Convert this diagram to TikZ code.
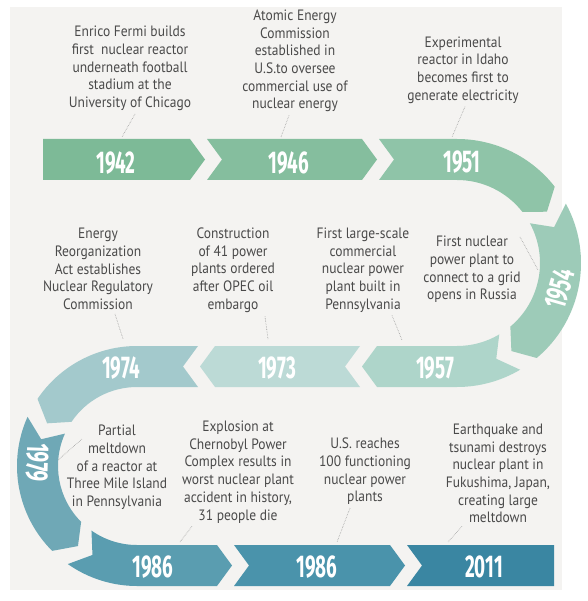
\documentclass[tikz,border=0pt]{standalone}
\usepackage{fontspec}
\setmainfont{PT Sans}
\newfontfamily\notefont[FakeStretch=0.9]{PT Sans}
\newfontfamily\yearfont[FakeStretch=0.6]{Fira Sans}
\usetikzlibrary{calc}
\definecolor{bggray}{HTML}{F4F3F1}
\definecolor{notegray}{HTML}{4A4A4A}
\definecolor{leadgray}{HTML}{9A9A9A}
\definecolor{cA}{HTML}{7DBA97}
\definecolor{cB}{HTML}{85BE9E}
\definecolor{cC}{HTML}{8FC4A8}
\definecolor{cD}{HTML}{9DCBB8}
\definecolor{cE}{HTML}{AED5CA}
\definecolor{cF}{HTML}{BCDAD6}
\definecolor{cG}{HTML}{A3C9CC}
\definecolor{cH}{HTML}{6FA8B6}
\definecolor{cI}{HTML}{5A9DB0}
\definecolor{cJ}{HTML}{4A93AB}
\definecolor{cK}{HTML}{3A86A2}
\tikzset{
  note/.style={font=\notefont\fontsize{15}{17.7}\selectfont, text=notegray, align=center, inner sep=0pt},
  year/.style={font=\yearfont\bfseries\fontsize{31.5}{32}\selectfont, text=white, inner sep=0pt},
  leader/.style={draw=leadgray, densely dotted, line width=0.6pt}
}

\begin{document}
\begin{tikzpicture}[x=1pt,y=-1pt]
 \useasboundingbox (0,0) rectangle (587,601);
 \fill[white] (0,0) rectangle (587,601);
 \fill[bggray] (10,7) rectangle (562,590);
 \coordinate (rc) at (457,263);
 \coordinate (lc) at (137,466);

 \fill[cA] (43,139) -- (190,139) -- (205,159.5) -- (190,180) -- (43,180) -- cycle;
 \fill[cB] (207,139) -- (362,139) -- (377,159.5) -- (362,180) -- (207,180) -- (222,159.5) -- cycle;
 \fill[cC] (379,139) -- (457,139) arc[start angle=-90, end angle=-38, radius=124]
   -- ($(rc)+(-29.7:103.5)$) -- ($(rc)+(-38:83)$) arc[start angle=-38, end angle=-90, radius=83]
   -- (379,180) -- (394,159.5) -- cycle;
 \fill[cD] ($(rc)+(-28.6:124)$) arc[start angle=-28.6, end angle=50, radius=124]
   -- ($(rc)+(58.3:103.5)$) -- ($(rc)+(50:83)$) arc[start angle=50, end angle=-28.6, radius=83]
   -- ($(rc)+(-20.3:103.5)$) -- cycle;
 \fill[cE] ($(rc)+(59.4:124)$) arc[start angle=59.4, end angle=90, radius=124]
   -- (377,387) -- (362,366.5) -- (377,346) -- (457,346) arc[start angle=90, end angle=59.4, radius=83]
   -- ($(rc)+(67.7:103.5)$) -- cycle;
 \fill[cF] (360,346) -- (215,346) -- (200,366.5) -- (215,387) -- (360,387) -- (345,366.5) -- cycle;
 \fill[cG] (198,346) -- (137,346) arc[start angle=-90, end angle=-146, radius=120]
   -- ($(lc)+(-154.6:99.5)$) -- ($(lc)+(-146:79)$) arc[start angle=-146, end angle=-90, radius=79]
   -- (198,387) -- (183,366.5) -- cycle;
 \fill[cH] ($(lc)+(-155.8:120)$) arc[start angle=-155.8, end angle=-225, radius=120]
   -- ($(lc)+(-233.6:99.5)$) -- ($(lc)+(-225:79)$) arc[start angle=-225, end angle=-155.8, radius=79]
   -- ($(lc)+(-164.4:99.5)$) -- cycle;
 \fill[cI] ($(lc)+(-234.8:120)$) arc[start angle=-234.8, end angle=-270, radius=120]
   -- (217,586) -- (232,565.5) -- (217,545) -- (137,545) arc[start angle=-270, end angle=-234.8, radius=79]
   -- ($(lc)+(-243.4:99.5)$) -- cycle;
 \fill[cJ] (234,545) -- (390,545) -- (405,565.5) -- (390,586) -- (234,586) -- (249,565.5) -- cycle;
 \fill[cK] (407,545) -- (554,545) -- (554,586) -- (407,586) -- (422,565.5) -- cycle;

 \node[year] (y1942) at (116,163) {1942};
 \node[year] (y1946) at (289,163) {1946};
 \node[year] (y1951) at (462,162) {1951};
 \node[year,rotate=74] (y1954) at ($(rc)+(14:106)$) {1954};
 \node[year] (y1957) at (435,368) {1957};
 \node[year] (y1973) at (277,368) {1973};
 \node[year] (y1974) at (121,368) {1974};
 \node[year,rotate=-92] (y1979) at ($(lc)+(182:100)$) {1979};
 \node[year] (y1986a) at (153,567) {1986};
 \node[year] (y1986b) at (317,567) {1986};
 \node[year] (y2011) at (484,567) {2011};

 \node[note] (fermi) at (130,68.5) {Enrico Fermi builds\\first\ \ nuclear reactor\\underneath football\\stadium at the\\University of Chicago};
 \node[note] (aec) at (295,61) {Atomic Energy\\Commission\\established in\\U.S.to oversee\\commercial use of\\nuclear energy};
 \node[note] (idaho) at (463,70) {Experimental\\reactor in Idaho\\becomes first to\\generate electricity};
 \node[note] (reorg) at (98,269) {Energy\\Reorganization\\Act establishes\\Nuclear Regulatory\\Commission};
 \node[note] (opec) at (233,270) {Construction\\of 41 power\\plants ordered\\after OPEC oil\\embargo};
 \node[note] (penn) at (363,270) {First large-scale\\commercial\\nuclear power\\plant built in\\Pennsylvania};
 \node[note] (russia) at (472,269.5) {First nuclear\\power plant to\\connect to a grid\\opens in Russia};
 \node[note] (tmi) at (117,467.5) {Partial\\meltdown\\of a reactor at\\Three Mile Island\\in Pennsylvania};
 \node[note] (chern) at (238,472) {Explosion at\\Chernobyl Power\\Complex results in\\worst nuclear plant\\accident in history,\\31 people die};
 \node[note] (hundred) at (365,471.5) {U.S. reaches\\100 functioning\\nuclear power\\plants};
 \node[note] (fuku) at (498,473.5) {Earthquake and\\tsunami destroys\\nuclear plant in\\Fukushima, Japan,\\creating large\\meltdown};

 \coordinate (p1942) at (122,137);
 \coordinate (p1946) at (281,137);
 \coordinate (p1951) at (452,137);
 \coordinate (p1954) at (538,270);
 \coordinate (p1957) at (402,340);
 \coordinate (p1973) at (268,339);
 \coordinate (p1974) at (123,339);
 \coordinate (p1979) at (58,460);
 \coordinate (p1986a) at (180,542);
 \coordinate (p1986b) at (337,542);
 \coordinate (p2011) at (448,542);

 \draw[leader] ([xshift=5pt,yshift=-3pt]fermi.south) -- (p1942);
 \draw[leader] ([xshift=-6pt,yshift=-3pt]aec.south) -- (p1946);
 \draw[leader] ([xshift=2pt,yshift=-3pt]idaho.south) -- (p1951);
 \draw[leader] ([xshift=48pt,yshift=-1pt]russia.north) -- (p1954);
 \draw[leader] ([xshift=29pt,yshift=-3pt]penn.south) -- (p1957);
 \draw[leader] ([xshift=32pt,yshift=-4pt]opec.south) -- (p1973);
 \draw[leader] ([xshift=17pt,yshift=-4pt]reorg.south) -- (p1974);
 \draw[leader] ([xshift=-35pt,yshift=-14pt]tmi.north) -- (p1979);
 \draw[leader] ([xshift=-46pt,yshift=-3pt]chern.south) -- (p1986a);
 \draw[leader] ([xshift=-15pt,yshift=-3pt]hundred.south) -- (p1986b);
 \draw[leader] ([xshift=-36pt,yshift=-3pt]fuku.south) -- (p2011);
\end{tikzpicture}
\end{document}
